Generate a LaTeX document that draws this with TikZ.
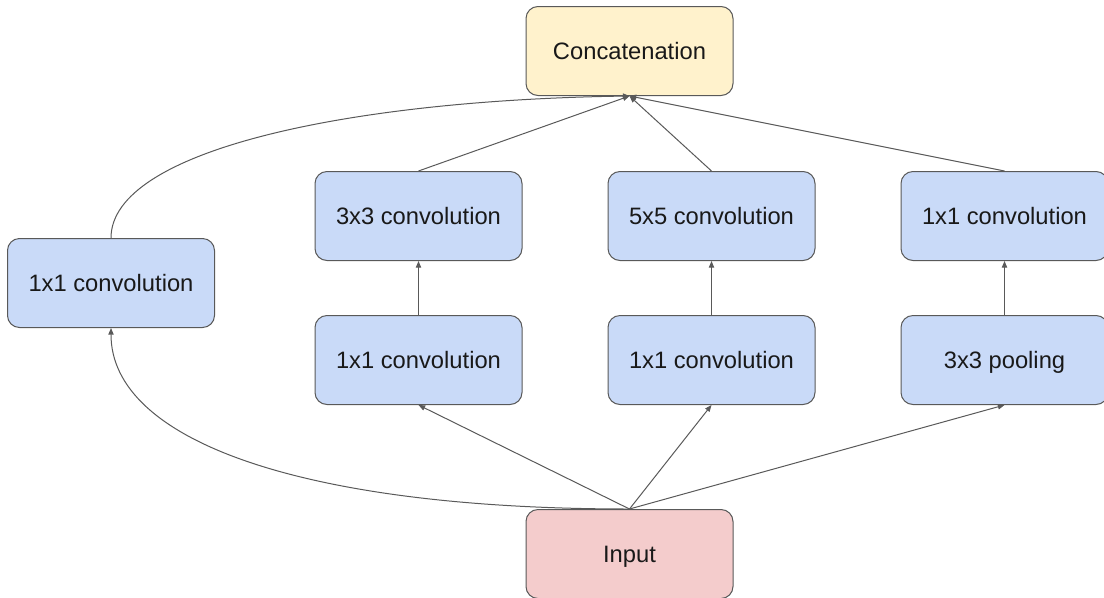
\documentclass[tikz,border=0pt]{standalone}
\usepackage{fontspec}
\setmainfont{Liberation Sans}
\usetikzlibrary{arrows.meta}
\definecolor{convfill}{HTML}{C9DAF8}
\definecolor{catfill}{HTML}{FFF2CC}
\definecolor{infill}{HTML}{F4CCCC}
\definecolor{edge}{HTML}{595959}
\begin{document}
\begin{tikzpicture}[x=0.75pt,y=-0.75pt,
  block/.style={draw=edge, line width=0.75pt, rounded corners=9pt,
    minimum width=155.25pt, minimum height=66.75pt, inner sep=0pt,
    text height=12.7pt, text depth=0pt,
    font=\fontsize{17.8pt}{20pt}\selectfont, text=black!90},
  conv/.style={block, fill=convfill},
  link/.style={draw=edge, line width=0.75pt,
    -{Triangle[length=5pt,width=4pt]}}]
\useasboundingbox (0,0) rectangle (1104,597);
% output and input
\node[block, fill=catfill] (cat) at (629.5,51) {Concatenation};
\node[block, fill=infill] (in) at (629.5,554) {Input};
% branch 1: single 1x1 convolution
\node[conv] (b1) at (111,283) {1x1 convolution};
% branch 2: 1x1 then 3x3
\node[conv] (b2a) at (418.5,360) {1x1 convolution};
\node[conv] (b2b) at (418.5,216) {3x3 convolution};
% branch 3: 1x1 then 5x5
\node[conv] (b3a) at (711.5,360) {1x1 convolution};
\node[conv] (b3b) at (711.5,216) {5x5 convolution};
% branch 4: pooling then 1x1
\node[conv] (b4a) at (1004.5,360) {3x3 pooling};
\node[conv] (b4b) at (1004.5,216) {1x1 convolution};
% input fan-out
\draw[link] (in.north) .. controls (300,509) and (111,440) .. (b1.south);
\draw[link] (in.north) -- (b2a.south);
\draw[link] (in.north) -- (b3a.south);
\draw[link] (in.north) -- (b4a.south);
% inside the branches
\draw[link] (b2a) -- (b2b);
\draw[link] (b3a) -- (b3b);
\draw[link] (b4a) -- (b4b);
% into the concatenation
\draw[link] (b1.north) .. controls (111,150) and (350,100) .. (cat.south);
\draw[link] (b2b.north) -- (cat.south);
\draw[link] (b3b.north) -- (cat.south);
\draw[link] (b4b.north) -- (cat.south);
\end{tikzpicture}
\end{document}
